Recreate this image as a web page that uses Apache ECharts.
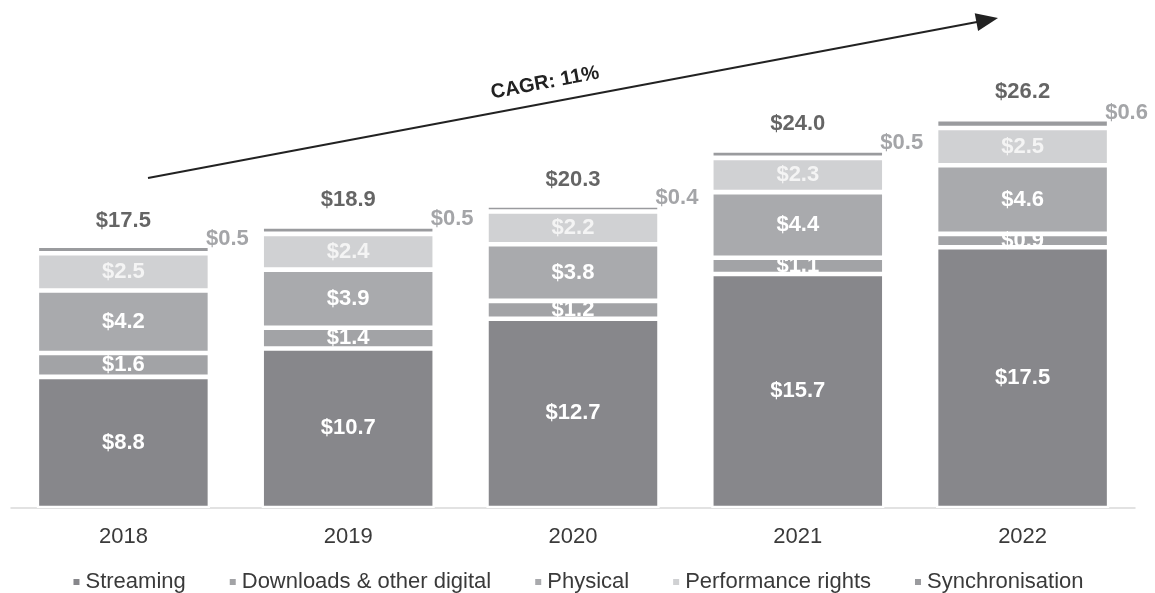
<!DOCTYPE html>
<html>
<head>
<meta charset="utf-8">
<script src="https://cdn.jsdelivr.net/npm/echarts@6/dist/echarts.min.js"></script>
<style>
  html, body { margin: 0; padding: 0; background: #ffffff; }
  #chart { width: 1155px; height: 593px; }
</style>
</head>
<body>
<div id="chart"></div>
<script>
// Recorded music revenues by format, US$ billions
const years = ['2018', '2019', '2020', '2021', '2022'];
const streaming = [8.8, 10.7, 12.7, 15.7, 17.5];
const downloads = [1.6, 1.4, 1.2, 1.1, 0.9];
const physical = [4.2, 3.9, 3.8, 4.4, 4.6];
const performance = [2.5, 2.4, 2.2, 2.3, 2.5];
const synchronisation = [0.5, 0.5, 0.4, 0.5, 0.6];
const totals = [17.5, 18.9, 20.3, 24.0, 26.2];
const cagrText = 'CAGR: 11%';

const FONT = '"Liberation Sans", Arial, sans-serif';
const money = v => '$' + Number(v).toFixed(1);

function segment(name, data, color, label) {
  return {
    name: name,
    type: 'bar',
    stack: 'revenue',
    data: data,
    barWidth: '77%',
    itemStyle: { color: color, borderColor: '#ffffff', borderWidth: 2.3 },
    label: Object.assign({
      show: true,
      position: 'inside',
      color: '#ffffff',
      fontFamily: FONT,
      fontWeight: 'bold',
      fontSize: 22,
      formatter: p => money(p.value)
    }, label || {}),
    emphasis: { disabled: true }
  };
}

const chart = echarts.init(document.getElementById('chart'), null, { renderer: 'canvas' });

// Arrow marking the growth trend above the bars
const tip = [998, 18];
const dir = [0.983, -0.185];
const headLen = 22, headHalf = 9;
const base = [tip[0] - dir[0] * headLen, tip[1] - dir[1] * headLen];
const perp = [-dir[1], dir[0]];

chart.setOption({
  animation: false,
  backgroundColor: '#ffffff',
  grid: { left: 11, right: 20, top: 61, bottom: 85 },
  xAxis: {
    type: 'category',
    data: years,
    axisLine: { lineStyle: { color: '#d9d9d9', width: 1.5 } },
    axisTick: { show: false },
    axisLabel: { color: '#3a3a3a', fontFamily: FONT, fontSize: 22, margin: 18 }
  },
  yAxis: { type: 'value', min: 0, max: 30, show: false, splitLine: { show: false } },
  legend: {
    top: 566,
    left: 'center',
    icon: 'rect',
    itemWidth: 8,
    itemHeight: 8,
    itemGap: 42,
    textStyle: { color: '#3a3a3a', fontFamily: FONT, fontSize: 22 },
    data: ['Streaming', 'Downloads & other digital', 'Physical', 'Performance rights', 'Synchronisation']
  },
  series: [
    segment('Streaming', streaming, '#87878b'),
    segment('Downloads & other digital', downloads, '#a2a3a6'),
    segment('Physical', physical, '#a9aaad'),
    segment('Performance rights', performance, '#d0d1d3', { color: '#f4f4f4' }),
    segment('Synchronisation', synchronisation, '#9a9b9e', {
      position: 'right',
      offset: [-9, -11],
      color: '#a4a5a8'
    }),
    {
      name: 'Total',
      type: 'scatter',
      data: totals,
      symbolSize: 0,
      silent: true,
      label: {
        show: true,
        position: 'top',
        distance: 15,
        color: '#3f3f3f',
        fontFamily: FONT,
        fontWeight: 'bold',
        fontSize: 22,
        formatter: p => money(p.value)
      }
    }
  ],
  graphic: [
    {
      type: 'line',
      shape: { x1: 148, y1: 178, x2: base[0] + dir[0] * 2, y2: base[1] + dir[1] * 2 },
      style: { stroke: '#222222', lineWidth: 2 }
    },
    {
      type: 'polygon',
      shape: {
        points: [
          tip,
          [base[0] + perp[0] * headHalf, base[1] + perp[1] * headHalf],
          [base[0] - perp[0] * headHalf, base[1] - perp[1] * headHalf]
        ]
      },
      style: { fill: '#222222' }
    },
    {
      type: 'text',
      x: 545,
      y: 83,
      rotation: 10.6 * Math.PI / 180,
      style: {
        text: cagrText,
        fill: '#222222',
        font: 'bold 20px ' + FONT,
        textAlign: 'center',
        textVerticalAlign: 'middle'
      }
    }
  ]
});
</script>
</body>
</html>
